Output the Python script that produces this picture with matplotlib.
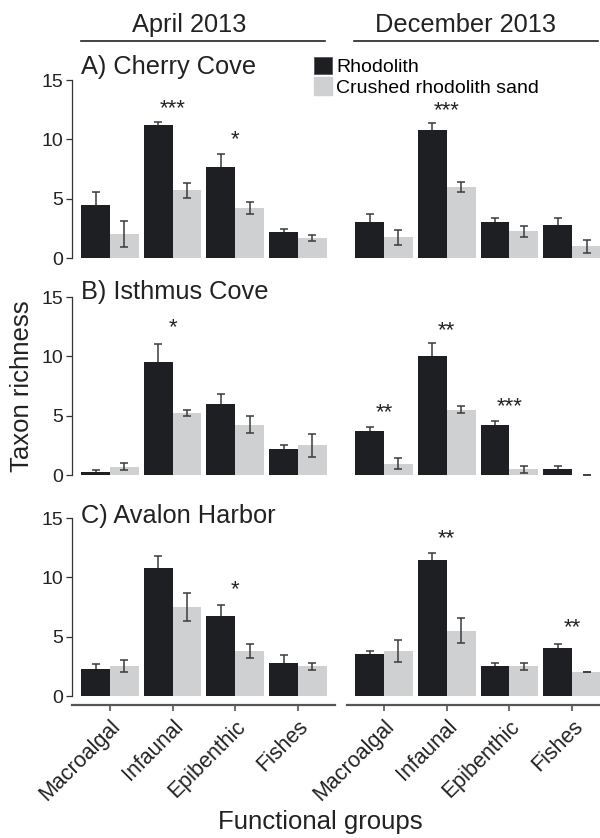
import matplotlib
matplotlib.use('Agg')
import matplotlib.pyplot as plt
from matplotlib.patches import Patch
from matplotlib.lines import Line2D
import numpy as np

plt.rcParams['font.family'] = ['Liberation Sans', 'DejaVu Sans']

groups = ['Macroalgal', 'Infaunal', 'Epibenthic', 'Fishes']
seasons = ['April 2013', 'December 2013']
sites = ['A) Cherry Cove', 'B) Isthmus Cove', 'C) Avalon Harbor']

# Cherry Cove
apr_cherry_rho = [4.5, 11.25, 7.7, 2.2]
apr_cherry_rho_se = [1.05, 0.2, 1.1, 0.27]
apr_cherry_sand = [2.0, 5.7, 4.25, 1.72]
apr_cherry_sand_se = [1.1, 0.62, 0.5, 0.25]
dec_cherry_rho = [3.0, 10.75, 3.0, 2.75]
dec_cherry_rho_se = [0.7, 0.6, 0.4, 0.6]
dec_cherry_sand = [1.75, 5.95, 2.25, 0.97]
dec_cherry_sand_se = [0.62, 0.42, 0.47, 0.56]

# Isthmus Cove
apr_isthmus_rho = [0.25, 9.5, 6.0, 2.2]
apr_isthmus_rho_se = [0.2, 1.5, 0.8, 0.3]
apr_isthmus_sand = [0.7, 5.25, 4.25, 2.5]
apr_isthmus_sand_se = [0.3, 0.25, 0.75, 0.95]
dec_isthmus_rho = [3.75, 10.0, 4.25, 0.5]
dec_isthmus_rho_se = [0.27, 1.1, 0.27, 0.3]
dec_isthmus_sand = [0.95, 5.5, 0.5, 0.0]
dec_isthmus_sand_se = [0.45, 0.3, 0.3, 0.0]

# Avalon Harbor
apr_avalon_rho = [2.25, 10.75, 6.75, 2.75]
apr_avalon_rho_se = [0.45, 1.05, 0.93, 0.73]
apr_avalon_sand = [2.5, 7.5, 3.8, 2.5]
apr_avalon_sand_se = [0.5, 1.18, 0.62, 0.3]
dec_avalon_rho = [3.55, 11.45, 2.5, 4.05]
dec_avalon_rho_se = [0.25, 0.56, 0.3, 0.37]
dec_avalon_sand = [3.8, 5.5, 2.5, 2.0]
dec_avalon_sand_se = [0.96, 1.06, 0.3, 0.0]

# significance labels and the height of their centre
apr_cherry_sig = ['', '***', '*', '']
apr_cherry_sig_y = [0, 13.2, 10.55, 0]
dec_cherry_sig = ['', '***', '', '']
dec_cherry_sig_y = [0, 13.0, 0, 0]
apr_isthmus_sig = ['', '*', '', '']
apr_isthmus_sig_y = [0, 13.0, 0, 0]
dec_isthmus_sig = ['**', '**', '***', '']
dec_isthmus_sig_y = [5.8, 12.7, 6.3, 0]
apr_avalon_sig = ['', '', '*', '']
apr_avalon_sig_y = [0, 0, 9.5, 0]
dec_avalon_sig = ['', '**', '', '**']
dec_avalon_sig_y = [0, 13.8, 0, 6.3]

panels = [
    [(apr_cherry_rho, apr_cherry_rho_se, apr_cherry_sand, apr_cherry_sand_se, apr_cherry_sig, apr_cherry_sig_y),
     (dec_cherry_rho, dec_cherry_rho_se, dec_cherry_sand, dec_cherry_sand_se, dec_cherry_sig, dec_cherry_sig_y)],
    [(apr_isthmus_rho, apr_isthmus_rho_se, apr_isthmus_sand, apr_isthmus_sand_se, apr_isthmus_sig, apr_isthmus_sig_y),
     (dec_isthmus_rho, dec_isthmus_rho_se, dec_isthmus_sand, dec_isthmus_sand_se, dec_isthmus_sig, dec_isthmus_sig_y)],
    [(apr_avalon_rho, apr_avalon_rho_se, apr_avalon_sand, apr_avalon_sand_se, apr_avalon_sig, apr_avalon_sig_y),
     (dec_avalon_rho, dec_avalon_rho_se, dec_avalon_sand, dec_avalon_sand_se, dec_avalon_sig, dec_avalon_sig_y)],
]

W, H = 600, 838
BLACK = '#1e1f23'
GREY = '#cfd0d2'
ECOL = '#3a3a3a'
TXT = '#222222'
w = 0.46

fig = plt.figure(figsize=(W / 100, H / 100), dpi=100)

# pixel layout
col_px = [(71.7, 335, -0.61, 3.59), (347, 600, -0.59, 3.445)]
row_px = [(80, 258), (297, 475), (518, 696)]
title_base = [74, 299, 523]

x = np.arange(len(groups))
for r, (top, bot) in enumerate(row_px):
    for c, (left, right, xmin, xmax) in enumerate(col_px):
        ax = fig.add_axes([left / W, 1 - bot / H, (right - left) / W, (bot - top) / H])
        rho, rho_se, sand, sand_se, sig, sig_y = panels[r][c]
        ax.bar(x - w / 2, rho, w, color=BLACK, zorder=2)
        ax.bar(x + w / 2, sand, w, color=GREY, zorder=2)
        # rhodolith error bars sit behind the dark bars, so only the upper half shows
        ax.errorbar(x - w / 2, rho, yerr=rho_se, fmt='none', ecolor=ECOL,
                    elinewidth=1.1, capsize=3, capthick=1.1, zorder=1)
        ax.errorbar(x + w / 2, sand, yerr=sand_se, fmt='none', ecolor=ECOL,
                    elinewidth=1.1, capsize=3, capthick=1.1, zorder=3)
        for i, (s, sy) in enumerate(zip(sig, sig_y)):
            if s:
                ax.text(x[i], sy - 0.58, s, ha='center', va='center', fontsize=16, color=TXT)
        ax.set_xlim(xmin, xmax)
        ax.set_ylim(0, 15)
        ax.patch.set_visible(False)
        for sp in ['top', 'right']:
            ax.spines[sp].set_visible(False)
        if c == 0:
            ax.spines['left'].set_color('#333333')
            ax.spines['left'].set_linewidth(0.9)
            ax.set_yticks([0, 5, 10, 15])
            ax.tick_params(axis='y', length=4, width=0.9, color='#333333', labelsize=14,
                           labelcolor=TXT, pad=2)
        else:
            ax.spines['left'].set_visible(False)
            ax.set_yticks([])
        if r == 2:
            ax.spines['bottom'].set_position(('outward', 6.5))
            ax.spines['bottom'].set_color('#555555')
            ax.spines['bottom'].set_linewidth(1.6)
            ax.set_xticks(x)
            ax.set_xticklabels(groups, rotation=45, ha='right', va='top',
                               rotation_mode='anchor')
            ax.tick_params(axis='x', length=4, width=1.2, color='#555555', labelsize=15.5,
                           labelcolor=TXT, pad=4)
        else:
            ax.spines['bottom'].set_visible(False)
            ax.set_xticks([])
        if c == 0:
            fig.text(81 / W, 1 - title_base[r] / H, sites[r], fontsize=18.3,
                     ha='left', va='baseline', color=TXT)
        if r == 0 and c == 1:
            handles = [Patch(facecolor=BLACK, edgecolor='#555555', linewidth=0.6),
                       Patch(facecolor=GREY, edgecolor=GREY)]
            ax.legend(handles, ['Rhodolith', 'Crushed rhodolith sand'],
                      loc='upper left', bbox_to_anchor=(314 / W, 1 - 57 / H),
                      bbox_transform=fig.transFigure, frameon=False, fontsize=14,
                      handlelength=0.95, handleheight=1.0, handletextpad=0.2,
                      labelspacing=0.05, borderpad=0, borderaxespad=0)

# season headers with rule underneath
fig.text(189 / W, 1 - 25 / H, seasons[0], fontsize=18.3, ha='center', va='center', color=TXT)
fig.text(466 / W, 1 - 25 / H, seasons[1], fontsize=18.3, ha='center', va='center', color=TXT)
fig.add_artist(Line2D([81 / W, 325 / W], [1 - 41 / H, 1 - 41 / H], color=TXT, lw=1.2))
fig.add_artist(Line2D([354 / W, 598 / W], [1 - 41 / H, 1 - 41 / H], color=TXT, lw=1.2))

fig.text(22 / W, 1 - 386 / H, 'Taxon richness', rotation=90, fontsize=18.5,
         ha='center', va='center', color=TXT)
fig.text(320 / W, 1 - 822 / H, 'Functional groups', fontsize=18.5,
         ha='center', va='center', color=TXT)

fig.savefig('out.png', dpi=100)
